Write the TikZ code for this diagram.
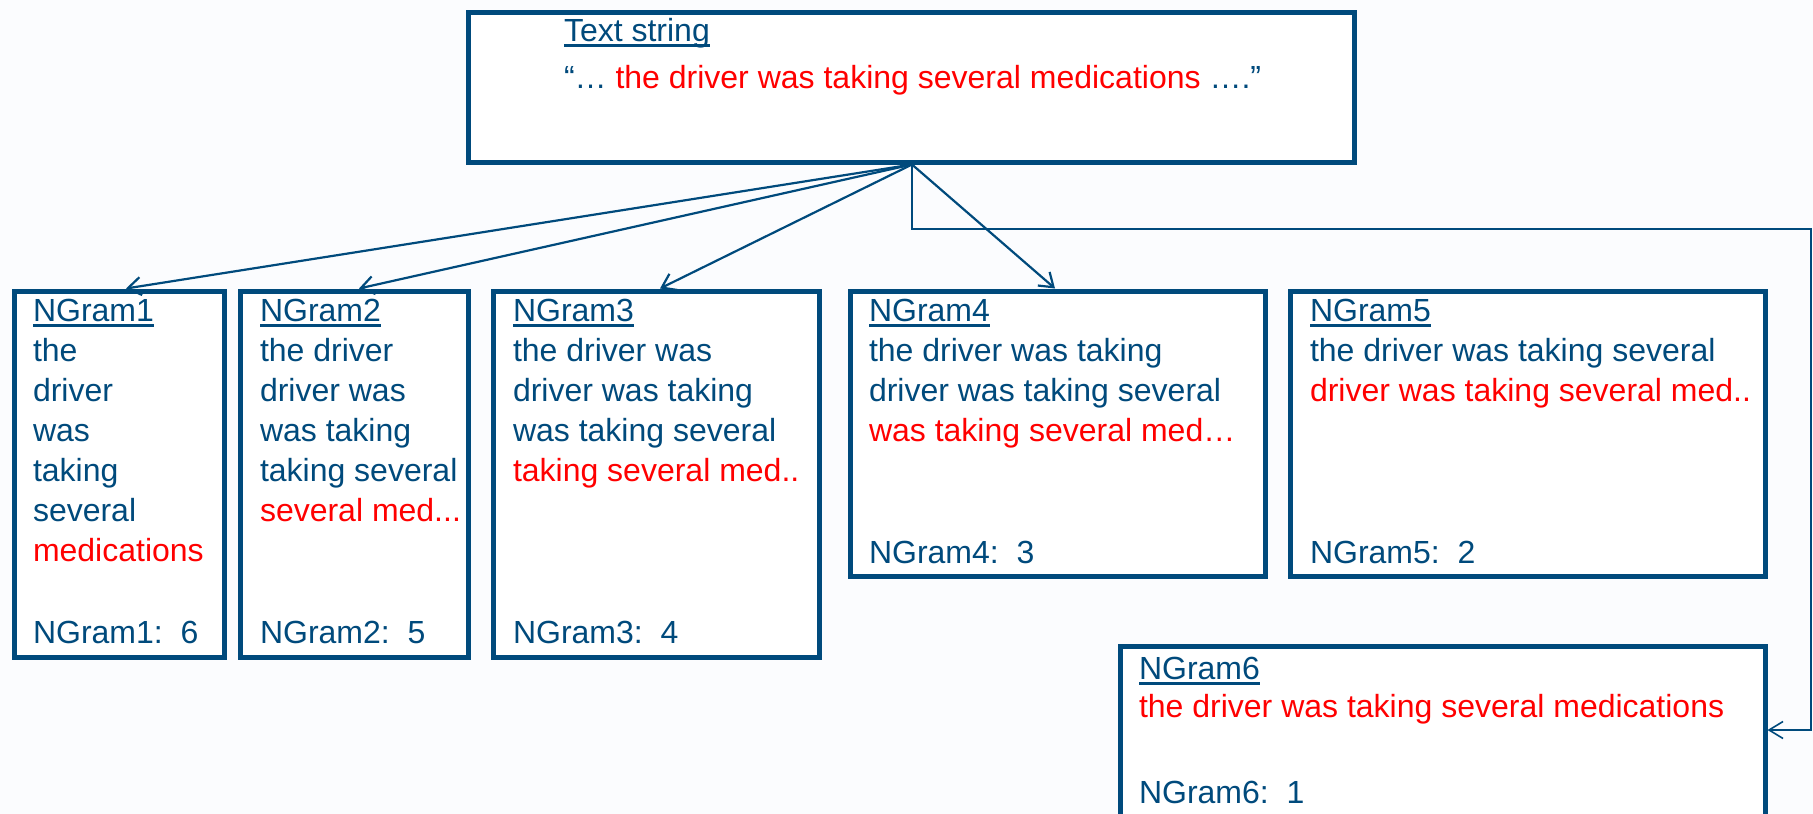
\documentclass[tikz,border=0pt]{standalone}
\usepackage{fontspec}
\setmainfont{Liberation Sans}
\usetikzlibrary{arrows.meta}
\definecolor{nblue}{RGB}{0,74,124}
\definecolor{nred}{RGB}{255,0,0}
\definecolor{bgc}{RGB}{251,252,254}
\begin{document}
\begin{tikzpicture}[x=1pt,y=-1pt,
  box/.style={draw=nblue, line width=5pt, fill=white, rectangle, inner sep=0pt},
  txt/.style={anchor=base west, inner sep=0pt, outer sep=0pt, text=nblue, font=\fontsize{32}{40}\selectfont},
  redtxt/.style={txt, text=nred},
  uline/.style={draw=nblue, line width=2.4pt},
  conn/.style={draw=nblue, line width=2.2pt, -{Straight Barb[length=13pt,width=18pt]}},
  elbow/.style={draw=nblue, line width=1.6pt, -{Straight Barb[length=14pt,width=17pt]}}
]
\useasboundingbox (0,0) rectangle (1813,814);
\clip (0,0) rectangle (1813,814);
\fill[bgc] (0,0) rectangle (1813,814);

% boxes
\node[box, minimum width=886pt, minimum height=150pt] (top) at (911,87) {};
\node[box, minimum width=210pt, minimum height=366pt] (n1) at (119,474) {};
\node[box, minimum width=228pt, minimum height=366pt] (n2) at (354,474) {};
\node[box, minimum width=326pt, minimum height=366pt] (n3) at (656,474) {};
\node[box, minimum width=415pt, minimum height=285pt] (n4) at (1057.5,433.5) {};
\node[box, minimum width=475pt, minimum height=285pt] (n5) at (1527.5,433.5) {};
\node[box, minimum width=645pt, minimum height=194pt] (n6) at (1442.5,743) {};

% top box text
\node[txt] (th) at (564,41) {Text string};
\draw[uline] ([yshift=-4.5pt]th.base west) -- ([yshift=-4.5pt]th.base east);
\node[txt] (tq) at (564,88) {“…\ \textcolor{nred}{the driver was taking several medications} ….”};

% NGram1
\node[txt] (h1) at (33,321) {NGram1};
\draw[uline] ([yshift=-4.5pt]h1.base west) -- ([yshift=-4.5pt]h1.base east);
\node[txt] (a1) at (33,361) {the};
\node[txt] (b1) at (33,401) {driver};
\node[txt] (c1) at (33,441) {was};
\node[txt] (d1) at (33,481) {taking};
\node[txt] (e1) at (33,521) {several};
\node[redtxt] (f1) at (33,561) {medications};
\node[txt] (k1) at (33,643) {NGram1:\ \ 6};

% NGram2
\node[txt] (h2) at (260,321) {NGram2};
\draw[uline] ([yshift=-4.5pt]h2.base west) -- ([yshift=-4.5pt]h2.base east);
\node[txt] (a2) at (260,361) {the driver};
\node[txt] (b2) at (260,401) {driver was};
\node[txt] (c2) at (260,441) {was taking};
\node[txt] (d2) at (260,481) {taking several};
\node[redtxt] (e2) at (260,521) {several med...};
\node[txt] (k2) at (260,643) {NGram2:\ \ 5};

% NGram3
\node[txt] (h3) at (513,321) {NGram3};
\draw[uline] ([yshift=-4.5pt]h3.base west) -- ([yshift=-4.5pt]h3.base east);
\node[txt] (a3) at (513,361) {the driver was};
\node[txt] (b3) at (513,401) {driver was taking};
\node[txt] (c3) at (513,441) {was taking several};
\node[redtxt] (d3) at (513,481) {taking several med..};
\node[txt] (k3) at (513,643) {NGram3:\ \ 4};

% NGram4
\node[txt] (h4) at (869,321) {NGram4};
\draw[uline] ([yshift=-4.5pt]h4.base west) -- ([yshift=-4.5pt]h4.base east);
\node[txt] (a4) at (869,361) {the driver was taking};
\node[txt] (b4) at (869,401) {driver was taking several};
\node[redtxt] (c4) at (869,441) {was taking several med…};
\node[txt] (k4) at (869,563) {NGram4:\ \ 3};

% NGram5
\node[txt] (h5) at (1310,321) {NGram5};
\draw[uline] ([yshift=-4.5pt]h5.base west) -- ([yshift=-4.5pt]h5.base east);
\node[txt] (a5) at (1310,361) {the driver was taking several};
\node[redtxt] (b5) at (1310,401) {driver was taking several med..};
\node[txt] (k5) at (1310,563) {NGram5:\ \ 2};

% NGram6
\node[txt] (h6) at (1139,679) {NGram6};
\draw[uline] ([yshift=-4.5pt]h6.base west) -- ([yshift=-4.5pt]h6.base east);
\node[redtxt] (a6) at (1139,717) {the driver was taking several medications};
\node[txt] (k6) at (1139,803) {NGram6:\ \ 1};

% connectors
\coordinate (src) at (912,0 |- top.south);
\draw[conn] (src) -- (126,0 |- n1.north);
\draw[conn] (src) -- (359,0 |- n2.north);
\draw[conn] (src) -- (660,0 |- n3.north);
\draw[conn] (src) -- (1055,0 |- n4.north);
\draw[elbow] (src) |- (1811,229) |- (n6.east |- 0,730);
\end{tikzpicture}
\end{document}
